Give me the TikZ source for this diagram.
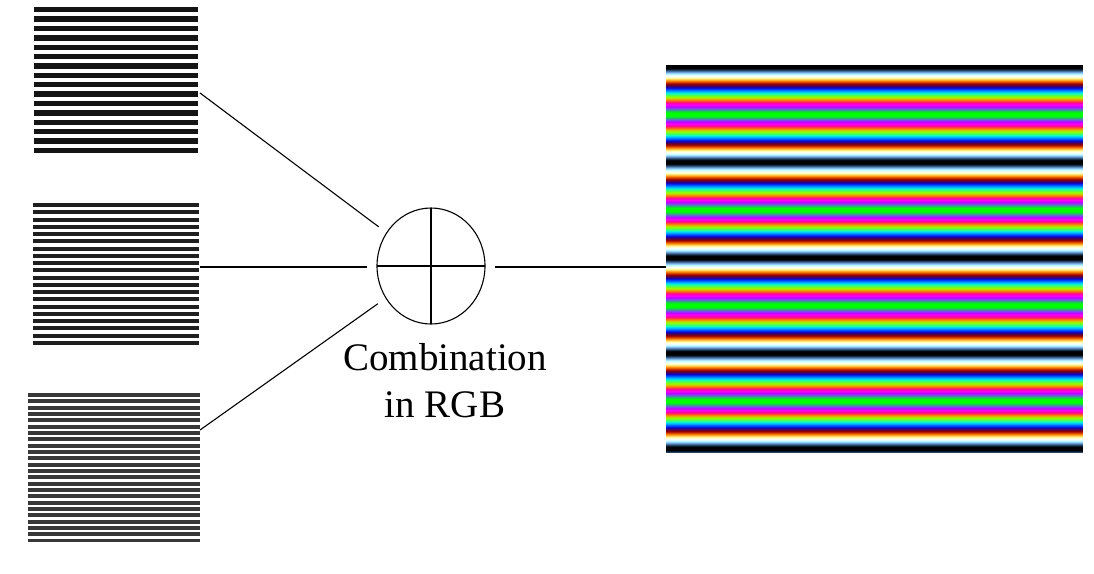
\documentclass[tikz,border=0pt]{standalone}
\usepackage{fontspec}
\setmainfont{Liberation Serif}
\usetikzlibrary{shapes.geometric}
\begin{document}
\begin{tikzpicture}[x=1pt,y=-1pt,
  wire/.style={line width=1.1pt,black},
  patchbox/.style={rectangle,inner sep=0pt,outer sep=0pt},
  combnode/.style={ellipse,draw,line width=1.1pt,inner sep=0pt,outer sep=10pt,
    minimum width=108pt,minimum height=116pt,
    path picture={\draw[line width=1.1pt] (path picture bounding box.north) -- (path picture bounding box.south);
                  \draw[line width=1.1pt] (path picture bounding box.west) -- (path picture bounding box.east);}},
  lbl/.style={align=center,inner sep=0pt,font=\fontsize{39}{47}\selectfont}
]
\useasboundingbox (0,0) rectangle (1094,573);
\fill[white] (0,0) rectangle (1094,573);

% grey-scale gratings
\node[patchbox,minimum width=164pt,minimum height=150pt] (p1) at (116,82) {};
\foreach \i in {0,...,15}
  \fill[black!92] (34,{7+\i*9.375}) rectangle (198,{7+\i*9.375+5.4});
\node[patchbox,minimum width=166pt,minimum height=145pt] (p2) at (116,275.5) {};
\foreach \i in {0,...,19}
  \fill[black!88] (33,{203+\i*7.25}) rectangle (199,{203+\i*7.25+4.1});
\node[patchbox,minimum width=172pt,minimum height=152pt] (p3) at (114,469) {};
\foreach \i in {0,...,23}
  \fill[black!78] (28,{393+\i*6.33}) rectangle (200,{393+\i*6.33+3.9});

% colour combination image
\node[patchbox,minimum width=417pt,minimum height=388pt] (img) at (874.5,259) {};
\foreach \k in {0,...,387}{
  \pgfmathsetmacro\tt{(\k-1.5)/95.5}
  \pgfmathsetmacro\rr{max(0,min(1,0.5-0.58*cos(1440*\tt)))}
  \pgfmathsetmacro\gg{max(0,min(1,0.5-0.58*cos(1800*\tt)))}
  \pgfmathsetmacro\bb{max(0,min(1,0.5-0.58*cos(2160*\tt)))}
  \definecolor{cc}{rgb}{\rr,\gg,\bb}
  \fill[cc] (666,{65+\k}) rectangle (1083,{66.3+\k});
}

% combination symbol
\node[combnode] (comb) at (431,266) {};
\node[lbl,anchor=north] (lab) at (445,343) {Combination\\in RGB};

% connectors
\coordinate (a1) at (200,93);
\coordinate (a2) at (200,267);
\coordinate (a3) at (200,430);
\draw[wire] (a1) -- (comb);
\draw[wire] (a2) -- (a2 -| comb.west);
\draw[wire] (a3) -- (comb);
\draw[wire] (comb.east |- 0,267) -- (img.west |- 0,267);
\end{tikzpicture}
\end{document}
